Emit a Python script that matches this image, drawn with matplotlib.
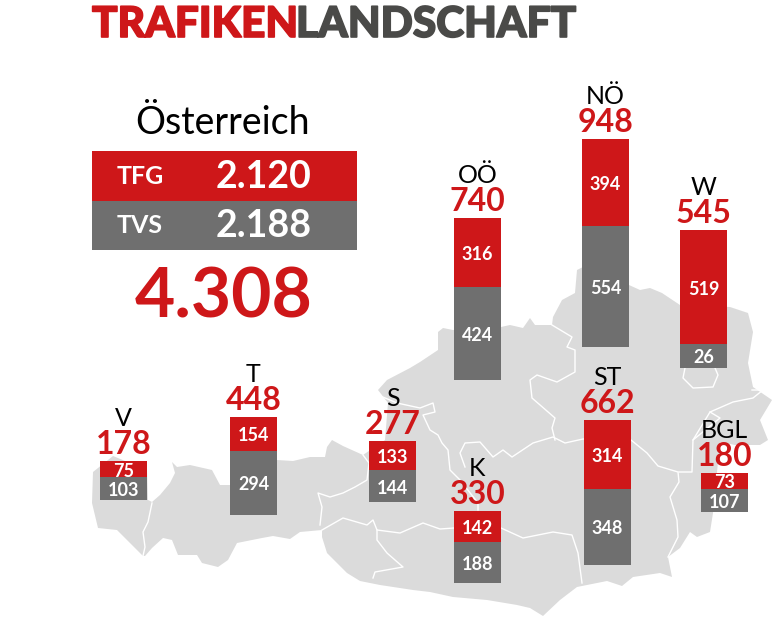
import matplotlib
matplotlib.use('Agg')
import matplotlib.pyplot as plt
import matplotlib.patheffects as pe
from matplotlib.patches import Polygon, Rectangle

RED = '#CE1719'
GREY = '#6F6F6F'
MAP = '#DBDBDB'
SCALE = 0.219  # px per Trafik
FONT = 'Lato'

regions = ['V', 'T', 'S', 'OÖ', 'NÖ', 'W', 'K', 'ST', 'BGL']
tfg = [75, 154, 133, 316, 394, 519, 142, 314, 73]
tvs = [103, 294, 144, 424, 554, 26, 188, 348, 107]
totals = [178, 448, 277, 740, 948, 545, 330, 662, 180]
# the W column is drawn taller than its label says in the original
tvs_drawn = [103, 294, 144, 424, 554, 110, 188, 348, 107]

# where each column stands on the map
x_left = [100, 230, 369, 454, 582, 680, 454, 584, 701]
y_base = [500, 515, 502, 380, 347, 368, 583, 565, 512]

at_tfg = 2120
at_tvs = 2188
at_total = 4308

# outline of the map, traced in pixels
outline = [(93, 472), (92, 503), (98, 528), (117, 530), (130, 543), (143, 556), (145, 556), (152, 548), (163, 538),
           (172, 540), (178, 555), (197, 555), (202, 563), (218, 567), (228, 560), (237, 543), (262, 538),
           (273, 536), (290, 539), (300, 532), (322, 530), (322, 537), (327, 553), (347, 573), (360, 581),
           (380, 585), (413, 590), (430, 592), (453, 597), (487, 600), (517, 605), (530, 608), (543, 616), (560, 600),
           (577, 587), (607, 581), (622, 586), (633, 577), (660, 573), (672, 577), (668, 557), (680, 548),
           (690, 532), (697, 537), (710, 532), (713, 513), (720, 442), (735, 445), (760, 445), (768, 440),
           (760, 420), (772, 400), (753, 387), (748, 363), (753, 332), (748, 313), (730, 307), (680, 305),
           (662, 293), (650, 288), (640, 290), (629, 285), (583, 267), (577, 270), (575, 293), (562, 300),
           (553, 317), (552, 325), (535, 325), (530, 318), (523, 328), (510, 325), (501, 327), (453, 330),
           (443, 328), (438, 332), (438, 350), (420, 362), (410, 368), (387, 380), (378, 390), (388, 403),
           (385, 440), (363, 455), (343, 446), (332, 440), (327, 447), (325, 457), (310, 457), (293, 461),
           (277, 460), (230, 485), (220, 485), (212, 470), (190, 465), (177, 467), (172, 462), (175, 473),
           (170, 483), (160, 495), (152, 502), (148, 500), (147, 470), (113, 456)]

borders = [
    [(152, 503), (148, 522), (143, 532), (145, 547), (143, 556)],
    [(363, 455), (369, 463), (367, 480), (355, 487), (343, 493), (330, 497), (318, 493), (322, 507), (320, 525)],
    [(322, 530), (343, 518), (367, 525), (373, 520), (377, 530), (400, 533), (423, 523), (440, 529), (454, 528),
     (501, 528), (523, 538), (553, 532), (572, 535), (578, 553), (582, 583)],
    [(377, 530), (377, 540), (387, 553), (403, 567), (375, 572), (373, 578)],
    [(378, 395), (397, 403), (420, 408), (433, 403), (435, 412), (423, 415), (430, 430), (438, 435), (442, 443),
     (448, 450), (450, 470), (460, 480), (478, 503), (478, 510)],
    [(465, 467), (460, 453), (465, 443), (480, 442), (493, 457), (503, 450), (512, 457), (533, 443), (553, 437),
     (565, 443), (583, 439), (631, 440), (647, 453), (658, 466), (678, 472), (679, 482), (670, 497), (677, 520),
     (678, 537), (668, 557)],
    [(552, 325), (572, 337), (567, 347), (575, 350), (575, 372), (557, 382), (537, 375), (530, 380), (532, 398),
     (555, 418), (552, 428), (555, 440)],
    [(679, 472), (692, 472), (693, 440), (710, 412), (733, 402), (753, 398), (763, 390), (752, 390)],
    [(710, 412), (720, 418), (693, 440)],
    [(685, 368), (683, 378), (693, 388), (713, 387), (718, 375), (715, 368)],
]

fig = plt.figure(figsize=(7.79, 6.28), dpi=100)
ax = fig.add_axes([0, 0, 1, 1])
ax.set_xlim(0, 779)
ax.set_ylim(628, 0)
ax.axis('off')

ax.add_patch(Polygon(outline, closed=True, facecolor=MAP, edgecolor='none', zorder=1))
for line in borders:
    ax.plot([p[0] for p in line], [p[1] for p in line], color='white', lw=1.0, zorder=2)

# title, stroked a little because the original is heavier
t1 = ax.text(92, 37, 'TRAFIKEN', color=RED, fontsize=30.5, fontweight='black', family=FONT, va='baseline')
t2 = ax.text(296, 37, 'LANDSCHAFT', color='#4A4A48', fontsize=30.5, fontweight='black', family=FONT, va='baseline')
t1.set_path_effects([pe.withStroke(linewidth=1.2, foreground=RED)])
t2.set_path_effects([pe.withStroke(linewidth=1.2, foreground='#4A4A48')])

# summary box
ax.text(223, 134, 'Österreich', color='black', fontsize=27, family=FONT, ha='center', va='baseline')
ax.add_patch(Rectangle((92, 151), 265, 50, facecolor=RED, edgecolor='none', zorder=3))
ax.add_patch(Rectangle((92, 201), 265, 49, facecolor=GREY, edgecolor='none', zorder=3))
for y, name, val in [(185, 'TFG', at_tfg), (234, 'TVS', at_tvs)]:
    ax.text(140, y - 1, name, color='white', fontsize=18, fontweight='bold', family=FONT, ha='center', zorder=4)
    ax.text(264, y + 3, f'{val:,}'.replace(',', '.'), color='white', fontsize=27, fontweight='bold', family=FONT,
            ha='center', zorder=4)
ax.text(224, 317, f'{at_total:,}'.replace(',', '.'), color=RED, fontsize=50, fontweight='bold', family=FONT,
        ha='center', zorder=4)

# columns
for name, a, b, b_h, tot, x0, base in zip(regions, tfg, tvs, tvs_drawn, totals, x_left, y_base):
    cx = x0 + 23.5
    split = base - b_h * SCALE
    top = split - a * SCALE
    ax.bar(cx, -b_h * SCALE, bottom=base, width=47, color=GREY, zorder=3)
    ax.bar(cx, -a * SCALE, bottom=split, width=47, color=RED, zorder=3)
    ax.text(cx, (base + split) / 2 + 0.5, str(b), color='white', fontsize=13, fontweight='bold', family=FONT,
            ha='center', va='center_baseline', zorder=4)
    ax.text(cx, (split + top) / 2 + 0.5, str(a), color='white', fontsize=13, fontweight='bold', family=FONT,
            ha='center', va='center_baseline', zorder=4)
    ax.text(cx, top - 7, str(tot), color=RED, fontsize=23, fontweight='bold', family=FONT, ha='center',
            va='baseline', zorder=4)
    ax.text(cx, top - 35, name, color='black', fontsize=18, family=FONT, ha='center', va='baseline', zorder=4)

fig.savefig('out.png', dpi=100)
